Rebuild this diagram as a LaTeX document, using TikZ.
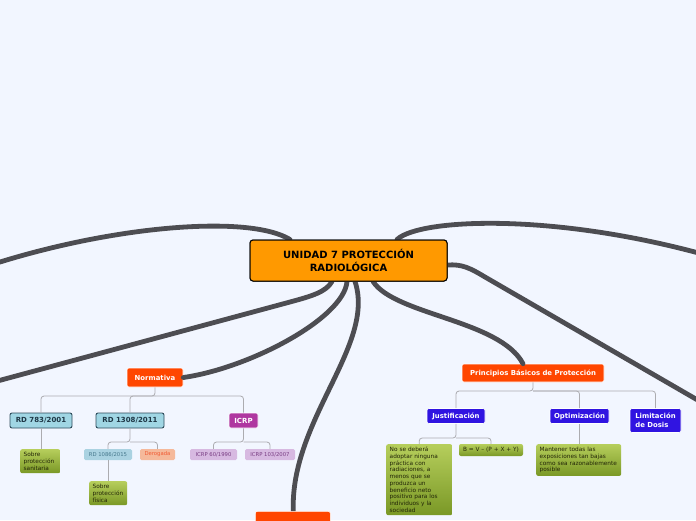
\documentclass[tikz,border=0pt]{standalone}
\usepackage{fontspec}
\setmainfont{DejaVu Sans}
\definecolor{bg}{RGB}{242,246,255}
\definecolor{conncol}{RGB}{77,77,82}
\definecolor{mainor}{RGB}{255,153,0}
\definecolor{redor}{RGB}{255,70,0}
\definecolor{bluev}{RGB}{48,20,225}
\definecolor{rdfill}{RGB}{160,214,228}
\definecolor{rddraw}{RGB}{45,75,90}
\definecolor{rdtext}{RGB}{30,55,70}
\definecolor{icrpfill}{RGB}{175,55,160}
\definecolor{lbfill}{RGB}{170,210,225}
\definecolor{lbtext}{RGB}{70,120,140}
\definecolor{salfill}{RGB}{245,185,155}
\definecolor{saltext}{RGB}{240,90,50}
\definecolor{lavfill}{RGB}{215,185,225}
\definecolor{lavtext}{RGB}{120,60,130}
\definecolor{gtop}{RGB}{182,206,92}
\definecolor{gbot}{RGB}{122,152,38}
\definecolor{gtext}{RGB}{35,38,8}
\definecolor{treecol}{RGB}{172,172,176}
\tikzset{
  conn/.style={draw=conncol, line width=4.8pt, line cap=round},
  tree/.style={draw=treecol, line width=0.8pt, rounded corners=3pt},
  mainbox/.style={draw=black, line width=1pt, fill=mainor, rounded corners=3pt, inner sep=0pt, align=center,
     font=\fontsize{10}{12.5}\selectfont\bfseries},
  redbox/.style={draw=white, line width=0.6pt, fill=redor, rounded corners=2pt, inner sep=0pt, text=white,
     font=\fontsize{6.9}{8}\selectfont\bfseries},
  bluebox/.style={draw=white, line width=0.6pt, fill=bluev, rounded corners=2pt, inner sep=0pt, text=white,
     font=\fontsize{6.9}{9}\selectfont\bfseries},
  rdbox/.style={draw=rddraw, line width=0.9pt, fill=rdfill, rounded corners=2pt, inner sep=0pt, text=rdtext,
     font=\fontsize{7}{8}\selectfont\bfseries},
  icrpbox/.style={draw=white, line width=0.6pt, fill=icrpfill, rounded corners=2pt, inner sep=0pt, text=white,
     font=\fontsize{7}{8}\selectfont\bfseries},
  smallbox/.style={rounded corners=1.5pt, inner sep=0pt, font=\fontsize{5.3}{6}\selectfont},
  greenbox/.style={rounded corners=2pt, top color=gtop, bottom color=gbot, anchor=north west, inner xsep=3.5pt,
     inner ysep=3pt, align=left, text=gtext, font=\fontsize{5.8}{6.7}\selectfont},
}
\begin{document}
\begin{tikzpicture}[x=1pt,y=-1pt]
\useasboundingbox (0,0) rectangle (696,520);
\clip (0,0) rectangle (696,520);
\fill[bg] (0,0) rectangle (696,520);

% free ends
\coordinate (e1) at (0,262);
\coordinate (e2) at (-10,383);
\coordinate (e6) at (720,413);
\coordinate (e7) at (720,259);

% main node
\node[mainbox, minimum width=197pt, minimum height=41pt] (main) at (348.5,260.5) {UNIDAD 7 PROTECCIÓN\\RADIOLÓGICA};

% first level nodes
\node[redbox, minimum width=56pt, minimum height=19pt] (norm) at (155,377.5) {Normativa};
\node[redbox, minimum width=142pt, minimum height=18pt] (prin) at (533,373) {Principios Básicos de Protección};
\node[redbox, minimum width=75pt, minimum height=20pt, anchor=north west] (bot) at (255,511) {};

% thick connectors
\draw[conn] ([xshift=-58.5pt]main.north) .. controls (250,215) and (120,225) .. (e1);
\draw[conn] ([xshift=-16.5pt]main.south) .. controls (326,292) and (312,296) .. (290,302) -- (e2);
\draw[conn] ([xshift=-1.5pt]main.south) .. controls (344,318) and (250,368) .. (norm.east);
\draw[conn] ([xshift=6.5pt]main.south) .. controls (376,345) and (290,420) .. ([xshift=0.5pt]bot.north);
\draw[conn] ([xshift=24.5pt]main.south) .. controls (395,315) and (500,320) .. ([xshift=-10pt]prin.north);
\draw[conn] ([yshift=-4.5pt]main.east) .. controls (462,264) and (470,268) .. (485,277) -- (e6);
\draw[conn] ([xshift=48.5pt]main.north) .. controls (420,218) and (560,212) .. (e7);

% redraw nodes on top of connectors
\node[mainbox, minimum width=197pt, minimum height=41pt] at (348.5,260.5) {UNIDAD 7 PROTECCIÓN\\RADIOLÓGICA};
\node[redbox, minimum width=75pt, minimum height=20pt, anchor=north west] at (255,511) {};

% Normativa subtree
\node[rdbox, minimum width=62pt, minimum height=15pt] (rd783) at (41,420.5) {RD 783/2001};
\node[rdbox, minimum width=68pt, minimum height=15pt] (rd1308) at (130,420.5) {RD 1308/2011};
\node[icrpbox, minimum width=29pt, minimum height=15pt] (icrp) at (243.5,420.5) {ICRP};
\coordinate (nj) at (155,396);
\draw[tree] (norm.south) -- (nj) -| (rd783.north);
\draw[tree] (nj) -| (rd1308.north);
\draw[tree] (nj) -| (icrp.north);

\node[greenbox, text width=33pt, minimum height=24pt] (san) at (20,449) {Sobre\\protección\\sanitaria};
\draw[tree] (rd783.south) -- (san.north -| rd783.south);

\node[smallbox, fill=lbfill, text=lbtext, minimum width=48pt, minimum height=11pt] (rd1086) at (108,454.5) {RD 1086/2015};
\node[smallbox, fill=salfill, text=saltext, minimum width=35pt, minimum height=11pt] (derog) at (157.5,454.5) {Derogada};
\coordinate (rj) at (130,442);
\draw[tree] (rd1308.south) -- (rj) -| (rd1086.north);
\draw[tree] (rj) -| (derog.north);
\node[greenbox, text width=31pt, minimum height=24pt] (fis) at (89,481) {Sobre\\protección\\física};
\draw[tree] (rd1086.south) -- (fis.north -| rd1086.south);

\node[smallbox, fill=lavfill, text=lavtext, minimum width=47pt, minimum height=11pt] (icrp60) at (213.5,454.5) {ICRP 60/1990};
\node[smallbox, fill=lavfill, text=lavtext, minimum width=50pt, minimum height=11pt] (icrp103) at (270,454.5) {ICRP 103/2007};
\coordinate (ij) at (243.5,442);
\draw[tree] (icrp.south) -- (ij) -| (icrp60.north);
\draw[tree] (ij) -| (icrp103.north);

% Principios subtree
\node[bluebox, minimum width=58pt, minimum height=15pt] (just) at (456,416) {Justificación};
\node[bluebox, minimum width=59pt, minimum height=15pt] (opti) at (579.5,416) {Optimización};
\node[bluebox, minimum width=51pt, minimum height=24pt, align=left] (limit) at (655.5,420.5) {Limitación\\de Dosis};
\coordinate (pj) at (533,391);
\draw[tree] (prin.south) -- (pj) -| (just.north);
\draw[tree] (pj) -| (opti.north);
\draw[tree] (pj) -| (limit.north);

\node[greenbox, text width=59pt, minimum height=70pt] (nose) at (386,444)
  {No se deberá\\adoptar ninguna\\práctica con\\radiaciones, a\\menos que se\\produzca un\\beneficio neto\\positivo para los\\individuos y la\\sociedad};
\node[greenbox, anchor=center, align=center, inner sep=0pt, minimum width=64pt, minimum height=12pt] (bform) at (491,450) {B = V – (P + X + Y)};
\coordinate (jj) at (456,438);
\draw[tree] (just.south) -- (jj) -| (nose.north);
\draw[tree] (jj) -| (bform.north);

\node[greenbox, text width=78pt, minimum height=31pt] (mant) at (536,444)
  {Mantener todas las\\exposiciones tan bajas\\como sea razonablemente\\posible};
\draw[tree] (opti.south) -- (mant.north -| opti.south);
\end{tikzpicture}
\end{document}
